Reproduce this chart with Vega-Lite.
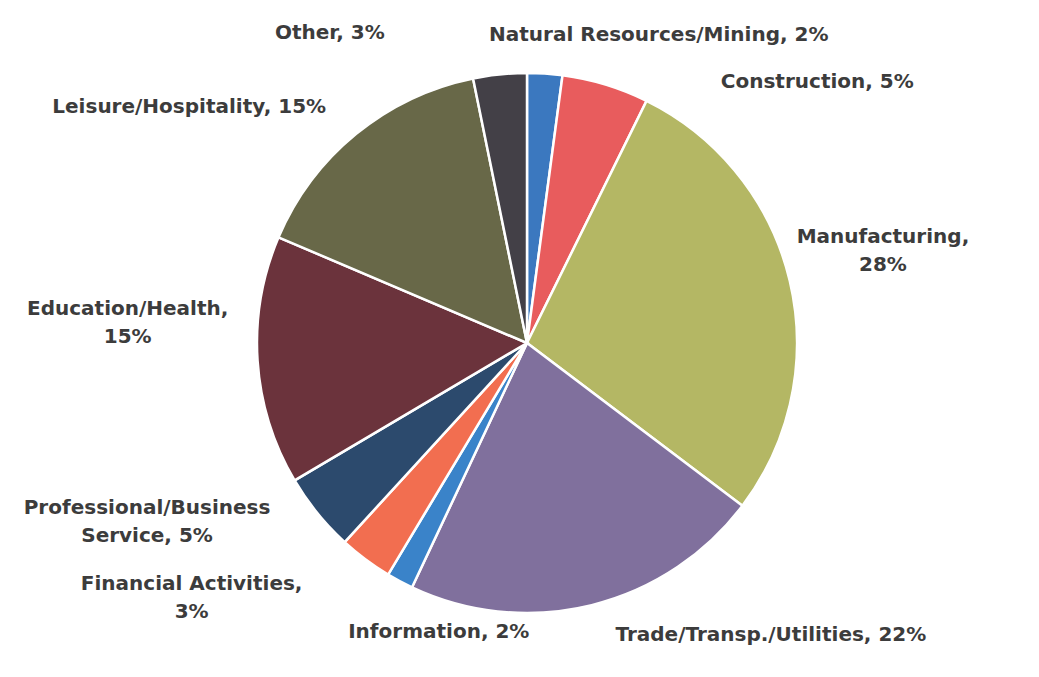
{
  "$schema": "https://vega.github.io/schema/vega-lite/v6.json",
  "autosize": {"type": "none"},
  "width": 1024,
  "height": 668,
  "padding": {"left": 15, "top": 9, "right": 0, "bottom": 0},
  "background": "white",
  "config": {"view": {"stroke": null}},
  "data": {
    "values": [
      {"order": 1, "name": "Natural Resources/Mining", "value": 2.1, "label": "Natural Resources/Mining, 2%"},
      {"order": 2, "name": "Construction", "value": 5.2, "label": "Construction, 5%"},
      {"order": 3, "name": "Manufacturing", "value": 28.0, "label": "Manufacturing,\n28%"},
      {"order": 4, "name": "Trade/Transp./Utilities", "value": 21.7, "label": "Trade/Transp./Utilities, 22%"},
      {"order": 5, "name": "Information", "value": 1.6, "label": "Information, 2%"},
      {"order": 6, "name": "Financial Activities", "value": 3.2, "label": "Financial Activities,\n3%"},
      {"order": 7, "name": "Professional/Business Service", "value": 4.7, "label": "Professional/Business\nService, 5%"},
      {"order": 8, "name": "Education/Health", "value": 14.9, "label": "Education/Health,\n15%"},
      {"order": 9, "name": "Leisure/Hospitality", "value": 15.4, "label": "Leisure/Hospitality, 15%"},
      {"order": 10, "name": "Other", "value": 3.2, "label": "Other, 3%"}
    ]
  },
  "encoding": {
    "theta": {"field": "value", "type": "quantitative", "stack": true},
    "order": {"field": "order", "type": "quantitative"}
  },
  "layer": [
    {
      "mark": {"type": "arc", "outerRadius": 270, "stroke": "white", "strokeWidth": 2.5},
      "encoding": {
        "color": {
          "field": "name",
          "type": "nominal",
          "legend": null,
          "scale": {
            "domain": ["Natural Resources/Mining", "Construction", "Manufacturing", "Trade/Transp./Utilities", "Information", "Financial Activities", "Professional/Business Service", "Education/Health", "Leisure/Hospitality", "Other"],
            "range": ["#3b78bf", "#e85c5d", "#b4b764", "#80709d", "#3a83c9", "#f26e50", "#2c4a6d", "#6b333c", "#686848", "#434047"]
          }
        }
      }
    },
    {
      "mark": {"type": "text", "radius": 300, "dx": 112, "dy": -9, "font": "DejaVu Sans", "fontWeight": "bold", "fontSize": 20, "fill": "#3c3c3c", "align": "center", "baseline": "middle", "lineBreak": "\n", "lineHeight": 28},
      "encoding": {"detail": {"field": "name"}, "text": {"condition": {"test": "datum.name === 'Natural Resources/Mining'", "field": "label", "type": "nominal"}, "value": ""}}
    },
    {
      "mark": {"type": "text", "radius": 300, "dx": 203, "dy": 26, "font": "DejaVu Sans", "fontWeight": "bold", "fontSize": 20, "fill": "#3c3c3c", "align": "center", "baseline": "middle", "lineBreak": "\n", "lineHeight": 28},
      "encoding": {"detail": {"field": "name"}, "text": {"condition": {"test": "datum.name === 'Construction'", "field": "label", "type": "nominal"}, "value": ""}}
    },
    {
      "mark": {"type": "text", "radius": 300, "dx": 64, "dy": -37, "font": "DejaVu Sans", "fontWeight": "bold", "fontSize": 20, "fill": "#3c3c3c", "align": "center", "baseline": "middle", "lineBreak": "\n", "lineHeight": 28},
      "encoding": {"detail": {"field": "name"}, "text": {"condition": {"test": "datum.name === 'Manufacturing'", "field": "label", "type": "nominal"}, "value": ""}}
    },
    {
      "mark": {"type": "text", "radius": 300, "dx": 172, "dy": 1, "font": "DejaVu Sans", "fontWeight": "bold", "fontSize": 20, "fill": "#3c3c3c", "align": "center", "baseline": "middle", "lineBreak": "\n", "lineHeight": 28},
      "encoding": {"detail": {"field": "name"}, "text": {"condition": {"test": "datum.name === 'Trade/Transp./Utilities'", "field": "label", "type": "nominal"}, "value": ""}}
    },
    {
      "mark": {"type": "text", "radius": 300, "dx": 53, "dy": 24, "font": "DejaVu Sans", "fontWeight": "bold", "fontSize": 20, "fill": "#3c3c3c", "align": "center", "baseline": "middle", "lineBreak": "\n", "lineHeight": 28},
      "encoding": {"detail": {"field": "name"}, "text": {"condition": {"test": "datum.name === 'Information'", "field": "label", "type": "nominal"}, "value": ""}}
    },
    {
      "mark": {"type": "text", "radius": 300, "dx": -156, "dy": 1, "font": "DejaVu Sans", "fontWeight": "bold", "fontSize": 20, "fill": "#3c3c3c", "align": "center", "baseline": "middle", "lineBreak": "\n", "lineHeight": 28},
      "encoding": {"detail": {"field": "name"}, "text": {"condition": {"test": "datum.name === 'Financial Activities'", "field": "label", "type": "nominal"}, "value": ""}}
    },
    {
      "mark": {"type": "text", "radius": 300, "dx": -147, "dy": -24, "font": "DejaVu Sans", "fontWeight": "bold", "fontSize": 20, "fill": "#3c3c3c", "align": "center", "baseline": "middle", "lineBreak": "\n", "lineHeight": 28},
      "encoding": {"detail": {"field": "name"}, "text": {"condition": {"test": "datum.name === 'Professional/Business Service'", "field": "label", "type": "nominal"}, "value": ""}}
    },
    {
      "mark": {"type": "text", "radius": 300, "dx": -100, "dy": -54, "font": "DejaVu Sans", "fontWeight": "bold", "fontSize": 20, "fill": "#3c3c3c", "align": "center", "baseline": "middle", "lineBreak": "\n", "lineHeight": 28},
      "encoding": {"detail": {"field": "name"}, "text": {"condition": {"test": "datum.name === 'Education/Health'", "field": "label", "type": "nominal"}, "value": ""}}
    },
    {
      "mark": {"type": "text", "radius": 300, "dx": -148, "dy": -4, "font": "DejaVu Sans", "fontWeight": "bold", "fontSize": 20, "fill": "#3c3c3c", "align": "center", "baseline": "middle", "lineBreak": "\n", "lineHeight": 28},
      "encoding": {"detail": {"field": "name"}, "text": {"condition": {"test": "datum.name === 'Leisure/Hospitality'", "field": "label", "type": "nominal"}, "value": ""}}
    },
    {
      "mark": {"type": "text", "radius": 300, "dx": -167, "dy": -12, "font": "DejaVu Sans", "fontWeight": "bold", "fontSize": 20, "fill": "#3c3c3c", "align": "center", "baseline": "middle", "lineBreak": "\n", "lineHeight": 28},
      "encoding": {"detail": {"field": "name"}, "text": {"condition": {"test": "datum.name === 'Other'", "field": "label", "type": "nominal"}, "value": ""}}
    }
  ]
}
